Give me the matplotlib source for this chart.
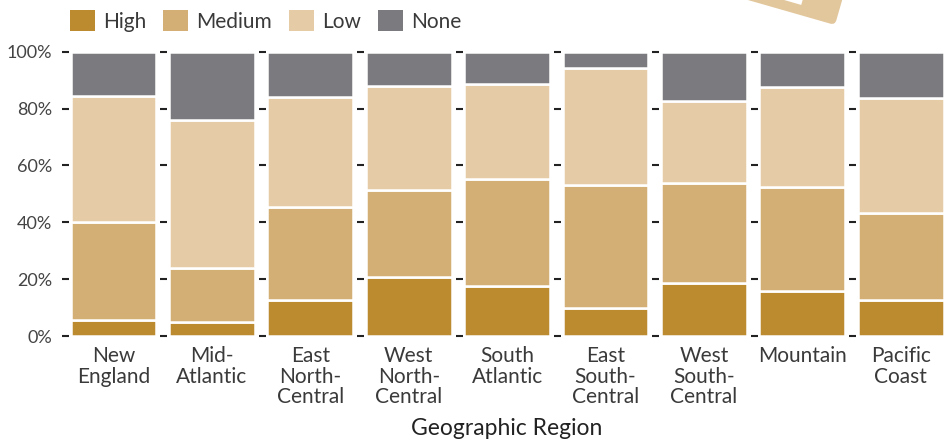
import matplotlib
matplotlib.use("Agg")
import matplotlib.pyplot as plt
import matplotlib.transforms as mt
from matplotlib.patches import Patch, FancyBboxPatch, Rectangle

regions = ['New\nEngland', 'Mid-\nAtlantic', 'East\nNorth-\nCentral', 'West\nNorth-\nCentral',
           'South\nAtlantic', 'East\nSouth-\nCentral', 'West\nSouth-\nCentral', 'Mountain',
           'Pacific\nCoast']
levels = ['High', 'Medium', 'Low', 'None']
high = [5.5, 4.8, 12.7, 20.6, 17.5, 9.7, 18.5, 15.8, 12.7]
medium = [34.5, 19.0, 32.6, 30.6, 37.8, 43.3, 35.3, 36.5, 30.6]
low = [44.4, 52.2, 38.9, 36.7, 33.3, 41.3, 28.8, 35.3, 40.3]
none = [15.6, 24.0, 15.8, 12.1, 11.4, 5.7, 17.4, 12.4, 16.4]
yticks = [0, 20, 40, 60, 80, 100]
ytick_labels = ['0%', '20%', '40%', '60%', '80%', '100%']

colors = ['#BC8A2F', '#D4AF75', '#E5CCA7', '#7B7B7F']
series = [high, medium, low, none]

plt.rcParams['font.family'] = ['Lato', 'DejaVu Sans']

W, H = 948, 440
fig = plt.figure(figsize=(W / 100, H / 100), dpi=100)

bottom_px = 336
top_px = 51.7
pitch = 98.4
pw = 89
text_col = '#3a3a3a'

axes = []
for i, reg in enumerate(regions):
    left = 69 + pitch * i
    ax = fig.add_axes([left / W, (H - bottom_px) / H, pw / W, (bottom_px - top_px) / H])
    base = 0
    for s, c in zip(series, colors):
        ax.bar([0], [s[i]], bottom=[base], width=0.965, color=c,
               edgecolor='white', linewidth=1.8)
        base += s[i]
    ax.set_xlim(-0.5, 0.5)
    ax.set_ylim(0, 100)
    for sp in ax.spines.values():
        sp.set_visible(False)
    ax.set_xticks([0])
    ax.set_xticklabels([reg], fontsize=15, color=text_col,
                       linespacing=1.05, va='top')
    ax.tick_params(axis='x', length=0, pad=7)
    ax.set_yticks(yticks)
    ax.tick_params(axis='y', direction='out', length=5, width=1.5, color='#222222',
                   pad=7)
    if i == 0:
        ax.set_yticklabels(ytick_labels, fontsize=13, color='#444444')
    else:
        ax.set_yticklabels([])
    axes.append(ax)

fig.text(507 / W, 1 - 428 / H, 'Geographic Region', ha='center', va='center',
         fontsize=16.5, color='#222222')

handles = [Patch(facecolor=c, edgecolor='none') for c in colors]
leg = fig.legend(handles, levels, loc='upper left', bbox_to_anchor=(70 / W, 1 - 10 / H),
                 ncol=4, frameon=False, fontsize=15, handlelength=1.2,
                 handleheight=1.2, handletextpad=0.4, columnspacing=0.8,
                 borderaxespad=0, borderpad=0)
for t in leg.get_texts():
    t.set_color(text_col)

# decorative rotated card shape at top right
tr = (mt.Affine2D().rotate_deg(-16).translate(835, H - 25).scale(0.01)
      + fig.dpi_scale_trans)
outer = FancyBboxPatch((-150, 0), 150, 80, boxstyle='round,pad=0,rounding_size=5',
                       facecolor='#E2C79D', edgecolor='none', transform=tr)
inner = Rectangle((-98, 10), 60, 60, facecolor='white', edgecolor='none', transform=tr)
fig.add_artist(outer)
fig.add_artist(inner)

fig.savefig('out.png', dpi=100)
